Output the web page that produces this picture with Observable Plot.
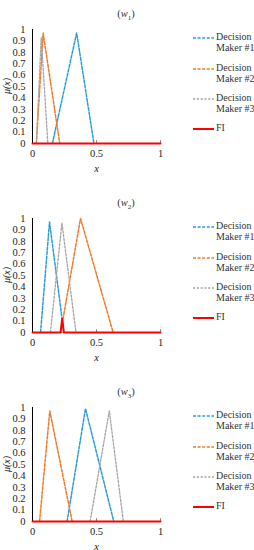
<!DOCTYPE html>
<html><head><meta charset="utf-8">
<script src="https://cdn.jsdelivr.net/npm/d3@7"></script>
<script src="https://cdn.jsdelivr.net/npm/@observablehq/plot@0.6"></script>
<style>
body{margin:0;background:#fff;font-family:"Liberation Serif","Times New Roman","DejaVu Serif",serif;overflow:hidden;}
.panel{position:absolute;left:0;width:254px;height:189px;}
.title{position:absolute;left:96px;width:60px;text-align:center;top:8px;font-size:10.5px;color:#333;}
.ylab{position:absolute;left:7px;top:86px;transform:translate(-50%,-50%) rotate(-90deg);font-size:10px;line-height:10px;font-style:italic;color:#222;white-space:nowrap;}
.legend{position:absolute;left:193px;font-size:10px;line-height:10.5px;color:#333;}
.legend .row{position:absolute;left:0;width:60px;}
.legend svg{position:absolute;left:0;top:4px;}
.legend span{position:absolute;left:23px;top:0;white-space:nowrap;}
svg [aria-label="x-axis label"] text{font-style:italic;}
svg text{font-family:"Liberation Serif","Times New Roman",serif;}
</style></head>
<body>
<div id="root"></div>
<script>
const xTicks = [0, 0.5, 1];
const yTicks = [0, 0.1, 0.2, 0.3, 0.4, 0.5, 0.6, 0.7, 0.8, 0.9, 1];
const seriesNames = ["Decision Maker #1", "Decision Maker #2", "Decision Maker #3", "FI"];
const panelSubs = ["1", "2", "3"];
const yLabel = "μ(x)";

// triangular fuzzy numbers: [left, peak x, right, peak μ]
const w1DM1 = [0.155, 0.345, 0.48, 0.97];
const w1DM2 = [0.03, 0.083, 0.213, 0.97];
const w1DM3 = [0.03, 0.068, 0.12, 0.93];
const w1FIx = [0, 1];
const w1FIy = [0, 0];

const w2DM1 = [0.063, 0.133, 0.245, 0.97];
const w2DM2 = [0.22, 0.375, 0.63, 1.0];
const w2DM3 = [0.14, 0.23, 0.34, 0.96];
const w2FIx = [0, 0.219, 0.232, 0.245, 1];
const w2FIy = [0, 0, 0.12, 0, 0];

const w3DM1 = [0.27, 0.414, 0.635, 0.99];
const w3DM2 = [0.055, 0.135, 0.31, 0.97];
const w3DM3 = [0.45, 0.6, 0.71, 0.97];
const w3FIx = [0, 1];
const w3FIy = [0, 0];

const colors = ["#2E9CDA", "#F07B2C", "#A5A5A5", "#FF0000"];
const dashes = ["3,1.6", "3,1.6", "2.2,1.6", null];
const widths = [1.5, 1.5, 1.3, 2];

const panels = [
  {dms: [w1DM1, w1DM2, w1DM3], fx: w1FIx, fy: w1FIy},
  {dms: [w2DM1, w2DM2, w2DM3], fx: w2FIx, fy: w2FIy},
  {dms: [w3DM1, w3DM2, w3DM3], fx: w3FIx, fy: w3FIy}
];

const root = document.getElementById("root");
panels.forEach((p, i) => {
  const div = document.createElement("div");
  div.className = "panel";
  div.style.top = (i * 189) + "px";
  root.appendChild(div);

  const tri = t => [{x: t[0], y: 0}, {x: t[1], y: t[3]}, {x: t[2], y: 0}];
  const fi = p.fx.map((x, k) => ({x, y: p.fy[k]}));

  const marks = [
    Plot.ruleY([0], {stroke: "#999", strokeWidth: 1}),
    Plot.ruleX([0.5, 1], {y1: 0, y2: 0.025, stroke: "#888"}),
    Plot.ruleX([0], {y1: 0, y2: 1, stroke: "#000", strokeWidth: 1}),
    Plot.axisY({ticks: yTicks, tickSize: 0, tickPadding: 7, tickFormat: d => String(+d.toFixed(1)), label: null}),
    Plot.axisX({ticks: xTicks, tickSize: 0, tickPadding: 6, tickFormat: d => String(d),
      label: "x", labelAnchor: "center", labelArrow: "none", labelOffset: 28})
  ];
  p.dms.forEach((t, k) => {
    marks.push(Plot.line(tri(t), {x: "x", y: "y", stroke: colors[k], strokeWidth: widths[k], strokeDasharray: dashes[k]}));
  });
  marks.push(Plot.line(fi, {x: "x", y: "y", stroke: colors[3], strokeWidth: widths[3]}));

  const chart = Plot.plot({
    width: 254, height: i === 2 ? 172 : 189,
    marginLeft: 32, marginRight: 94, marginTop: 29, marginBottom: i === 2 ? 29 : 46,
    style: {fontFamily: "Liberation Serif, Times New Roman, serif", fontSize: "10.5px", color: "#222", background: "transparent"},
    x: {domain: [0, 1]},
    y: {domain: [0, 1]},
    marks
  });
  div.appendChild(chart);

  const title = document.createElement("div");
  title.className = "title";
  title.innerHTML = "(<i>w</i><sub style='font-size:7px'>" + panelSubs[i] + "</sub>)";
  div.appendChild(title);

  const yl = document.createElement("div");
  yl.className = "ylab";
  yl.textContent = yLabel;
  div.appendChild(yl);

  const leg = document.createElement("div");
  leg.className = "legend";
  leg.style.top = "0px";
  const rowTops = [32, 63, 93, 123];
  seriesNames.forEach((name, k) => {
    const row = document.createElement("div");
    row.className = "row";
    row.style.top = rowTops[k] + "px";
    const parts = name.startsWith("Decision") ? ["Decision", name.slice(9)] : [name];
    row.innerHTML = `<svg width="21" height="4"><line x1="0" x2="21" y1="2" y2="2" stroke="${colors[k]}" stroke-width="${widths[k]}" ${dashes[k] ? `stroke-dasharray="${dashes[k]}"` : ""}/></svg><span>${parts.join("<br>")}</span>`;
    leg.appendChild(row);
  });
  div.appendChild(leg);
});
</script>
</body></html>
